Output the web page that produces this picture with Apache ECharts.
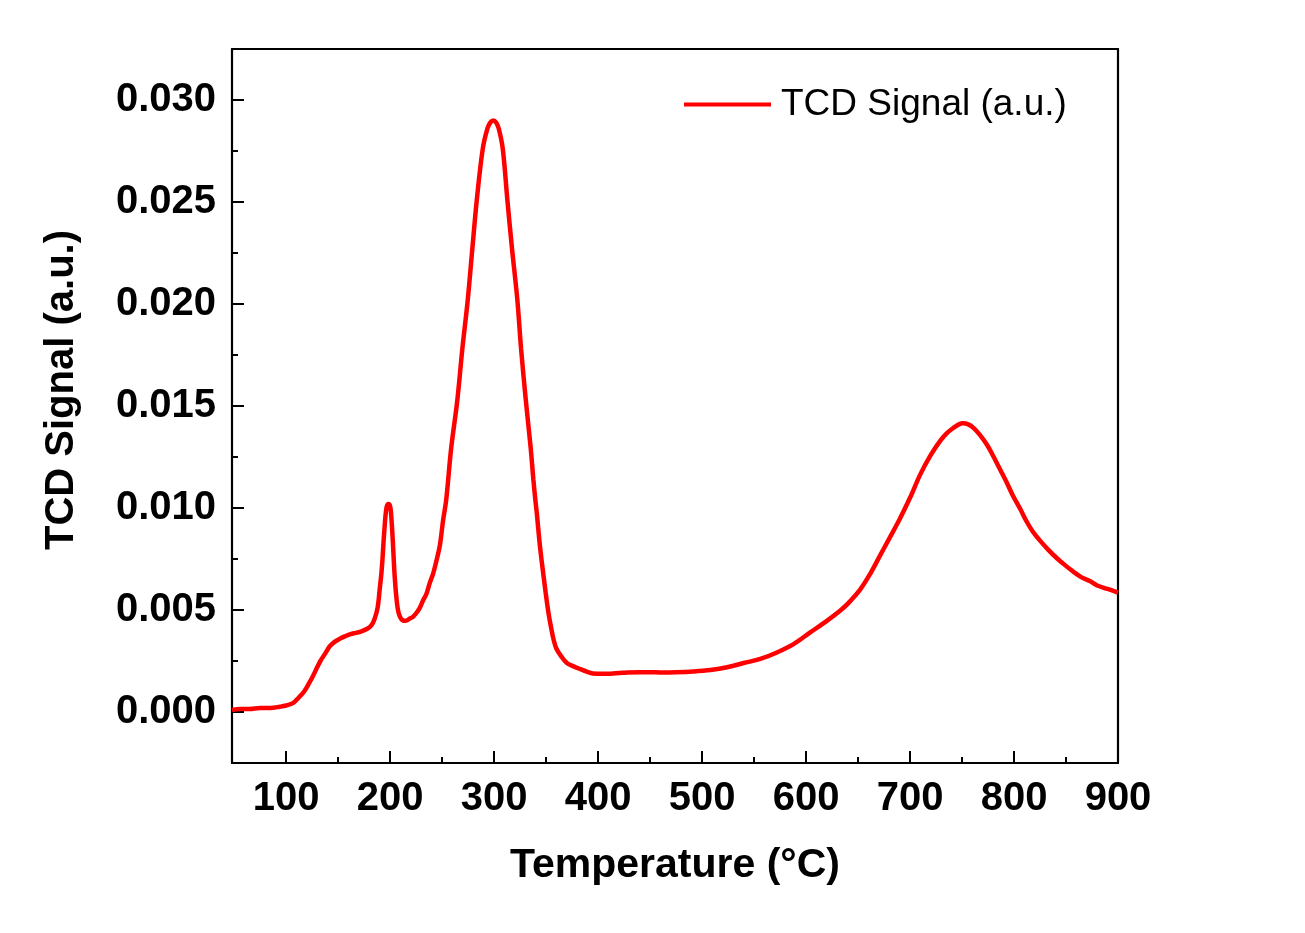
<!DOCTYPE html>
<html>
<head>
<meta charset="utf-8">
<script src="https://cdn.jsdelivr.net/npm/echarts@6/dist/echarts.min.js"></script>
<style>html,body{margin:0;padding:0;background:#fff}#c{width:1305px;height:933px}</style>
</head>
<body>
<div id="c"></div>
<script>
const temps = [48,56,65,75,85,94,100,107,112,117,122,126,130,133,138,142,147,152,157,162,167,172,178,182,185,188,190,192,194.5,196.5,198.5,200,201,202.5,204.5,206.5,208,210,212,215,219,222,226,229,232,235,238,241.5,245,248,251,254,258.7,264.7,269.5,274.7,279.1,283.4,289.1,293.6,296.5,299.3,302,304.5,308.4,312.8,317.3,322.4,326,330.5,335.3,337.8,339.7,341,344.2,348,352.2,355,357,360,365,370,376,383,389,395,405,412,420,428,440,450,460,475,492,508,524,540,556,572,588,604,620,633,640,652,662,671,680,690,700,710,720,729,735,742,747,751,756,761,767,774,780,786.5,793,799,806,812,818,825,833,841,849,857,865,873,880,890,900];
const signal = [0.0001,0.00015,0.00015,0.0002,0.0002,0.00026,0.00032,0.00045,0.0007,0.00098,0.0014,0.00178,0.0022,0.0025,0.0029,0.00322,0.00345,0.0036,0.00372,0.00382,0.00388,0.00394,0.00408,0.00425,0.00455,0.0051,0.006,0.007,0.0089,0.0100,0.0102,0.0101,0.0097,0.0085,0.0066,0.0054,0.0049,0.00462,0.0045,0.00447,0.00458,0.00466,0.0049,0.00515,0.0055,0.0058,0.0063,0.0068,0.0075,0.0082,0.0094,0.0104,0.0129,0.0153,0.0178,0.0202,0.0227,0.0251,0.0276,0.0286,0.0289,0.0290,0.0289,0.0286,0.0276,0.0251,0.0227,0.0202,0.0178,0.0153,0.0129,0.0114,0.0104,0.0098,0.0081,0.0065,0.0049,0.0041,0.0036,0.0031,0.0027,0.0024,0.00225,0.0021,0.00198,0.00189,0.00187,0.00188,0.00191,0.00194,0.00195,0.00195,0.00194,0.00195,0.00199,0.00206,0.00219,0.0024,0.0026,0.00292,0.00333,0.0039,0.00447,0.00498,0.0053,0.0060,0.0068,0.00765,0.0085,0.00945,0.0105,0.01166,0.0126,0.01329,0.01365,0.01394,0.0141,0.01415,0.0141,0.01393,0.0136,0.0131,0.01255,0.0119,0.01125,0.0106,0.00995,0.00935,0.00885,0.0084,0.00795,0.00755,0.0072,0.00688,0.0066,0.00642,0.0062,0.00603,0.00585];
const xMajor = [100,200,300,400,500,600,700,800,900];
const xMinor = [150,250,350,450,550,650,750,850];
const yMajor = [0,0.005,0.01,0.015,0.02,0.025,0.03];
const yMinor = [0.0025,0.0075,0.0125,0.0175,0.0225,0.0275];
const seriesName = 'TCD Signal (a.u.)';
const xTitle = 'Temperature (°C)';
const yTitle = 'TCD Signal (a.u.)';

const X_MIN = 48, X_MAX = 900, Y_MIN = -0.0025, Y_MAX = 0.0325;
const FONT = 'Liberation Sans, Arial, sans-serif';
const axisLineStyle = {color:'#000', width:2.2};

const chart = echarts.init(document.getElementById('c'), null, {renderer:'canvas'});
chart.setOption({
  animation:false,
  backgroundColor:'#fff',
  grid:{left:232, right:187, top:49, bottom:170, containLabel:false, outerBoundsMode:'none'},
  legend:{
    left:684, top:86, padding:0,
    itemWidth:87, itemHeight:4, icon:'rect',
    textStyle:{fontFamily:FONT, fontSize:37, color:'#000', padding:[0,0,0,5]},
    data:[seriesName]
  },
  xAxis:[{
    type:'value', min:X_MIN, max:X_MAX, position:'bottom',
    axisLine:{show:true, onZero:false, lineStyle:axisLineStyle},
    axisTick:{show:true, inside:true, length:12, lineStyle:{color:'#000', width:2}, customValues:xMajor},
    axisLabel:{show:true, fontFamily:FONT, fontWeight:'bold', fontSize:40, color:'#000', margin:16, customValues:xMajor},
    splitLine:{show:false},
    name:xTitle, nameLocation:'middle', nameGap:82,
    nameTextStyle:{fontFamily:FONT, fontWeight:'bold', fontSize:41, color:'#000'}
  },{
    type:'value', min:X_MIN, max:X_MAX, position:'bottom',
    axisLine:{show:false, onZero:false},
    axisTick:{show:true, inside:true, length:6, lineStyle:{color:'#000', width:2}, customValues:xMinor},
    axisLabel:{show:false}, splitLine:{show:false}
  },{
    type:'value', min:X_MIN, max:X_MAX, position:'top',
    axisLine:{show:true, onZero:false, lineStyle:axisLineStyle},
    axisTick:{show:false}, axisLabel:{show:false}, splitLine:{show:false}
  }],
  yAxis:[{
    type:'value', min:Y_MIN, max:Y_MAX, position:'left',
    axisLine:{show:true, onZero:false, lineStyle:axisLineStyle},
    axisTick:{show:true, inside:true, length:12, lineStyle:{color:'#000', width:2}, customValues:yMajor},
    axisLabel:{show:true, fontFamily:FONT, fontWeight:'bold', fontSize:40, color:'#000', margin:16,
      customValues:yMajor, formatter:v=>v.toFixed(3)},
    splitLine:{show:false},
    name:yTitle, nameLocation:'middle', nameGap:150, nameRotate:90,
    nameTextStyle:{fontFamily:FONT, fontWeight:'bold', fontSize:40, color:'#000', padding:[0,0,0,32]}
  },{
    type:'value', min:Y_MIN, max:Y_MAX, position:'left',
    axisLine:{show:false, onZero:false},
    axisTick:{show:true, inside:true, length:6, lineStyle:{color:'#000', width:2}, customValues:yMinor},
    axisLabel:{show:false}, splitLine:{show:false}
  },{
    type:'value', min:Y_MIN, max:Y_MAX, position:'right',
    axisLine:{show:true, onZero:false, lineStyle:axisLineStyle},
    axisTick:{show:false}, axisLabel:{show:false}, splitLine:{show:false}
  }],
  series:[{
    name:seriesName, type:'line', xAxisIndex:0, yAxisIndex:0,
    data: temps.map((t,i)=>[t, signal[i]]),
    showSymbol:false, symbol:'none', smooth:0.35, clip:true,
    lineStyle:{color:'#ff0000', width:4.5},
    itemStyle:{color:'#ff0000'}
  }]
});
</script>
</body>
</html>
